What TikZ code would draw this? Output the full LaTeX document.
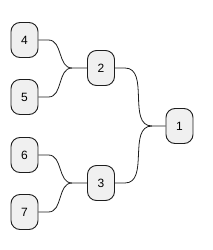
\documentclass[tikz,border=0pt]{standalone}
\usepackage{fontspec}
\setmainfont{Liberation Sans}
\usetikzlibrary{
	positioning,
	calc
}
\definecolor{TreeGray}{RGB}{240,240,240}
\definecolor{TreeLine}{RGB}{30,30,30}

\tikzset{
	treenode/.style={
		draw=TreeLine,
		fill=TreeGray,
		line width=0.9pt,
		rounded corners=9pt,
		minimum width=27pt,
		minimum height=35pt,
		inner sep=0pt,
		font=\fontsize{12pt}{14pt}\selectfont
	},
	treelink/.style={
		draw=TreeLine,
		line width=0.8pt
	}
}

\begin{document}
\begin{tikzpicture}[x=1pt,y=-1pt]
	
	\useasboundingbox (0,0) rectangle (213,250);
	
	% leaves
	\node[treenode] (N4) at (24.5,40) {4};
	\node[treenode] (N5) at (24.5,97) {5};
	\node[treenode] (N6) at (24.5,155) {6};
	\node[treenode] (N7) at (24.5,212) {7};
	
	% inner nodes
	\node[treenode] (N2) at (101,68) {2};
	\node[treenode] (N3) at (101,183) {3};
	
	% root
	\node[treenode] (N1) at (179.5,126) {1};
	
	% junctions
	\coordinate (J2) at (72,68);
	\coordinate (J3) at (72,183);
	\coordinate (J1) at (152,126);
	
	\draw[treelink] (N4.east) -- ++(10,0) to[out=0,in=180] (J2) -- (N2.west);
	\draw[treelink] (N5.east) -- ++(10,0) to[out=0,in=180] (J2);
	\draw[treelink] (N6.east) -- ++(10,0) to[out=0,in=180] (J3) -- (N3.west);
	\draw[treelink] (N7.east) -- ++(10,0) to[out=0,in=180] (J3);
	
	\draw[treelink] (N2.east) -- ++(10,0) to[out=0,in=180] (J1) -- (N1.west);
	\draw[treelink] (N3.east) -- ++(10,0) to[out=0,in=180] (J1);
	
\end{tikzpicture}
\end{document}
